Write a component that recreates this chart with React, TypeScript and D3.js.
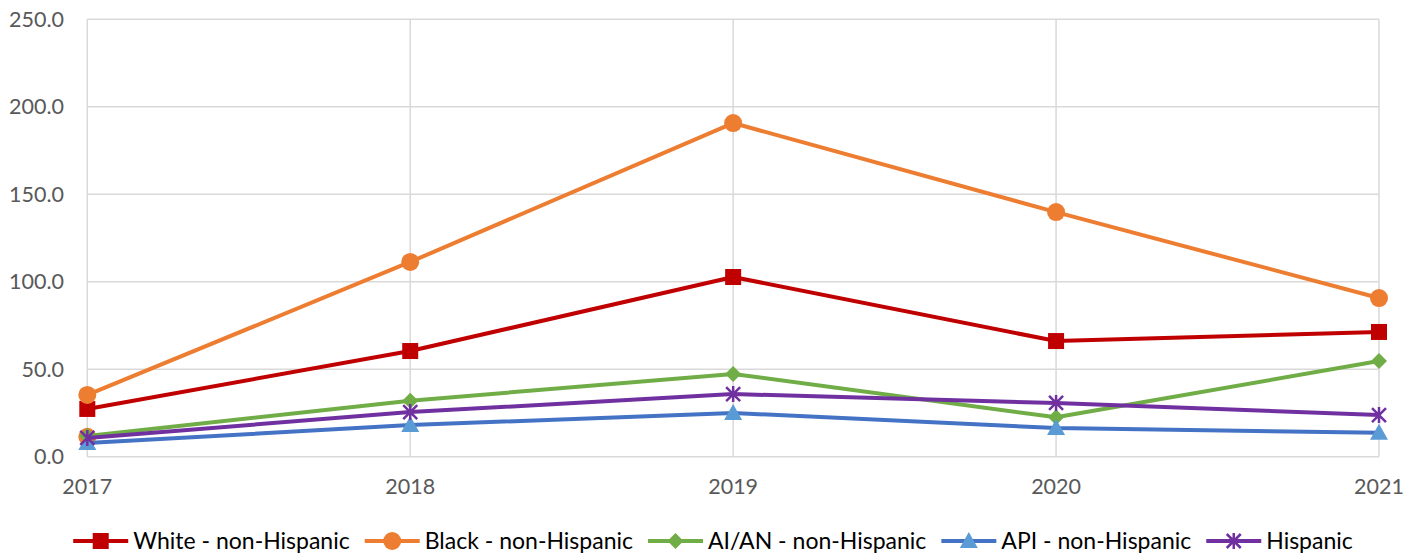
import React, { useEffect, useRef } from "react";
import * as d3 from "d3";

const years = ["2017", "2018", "2019", "2020", "2021"];
const yTicks = [0, 50, 100, 150, 200, 250];

const whiteNH = [27.3, 60.4, 102.7, 66.1, 71.3];
const blackNH = [35.3, 111.3, 190.7, 139.8, 90.7];
const aianNH = [11.8, 32.0, 47.3, 22.5, 54.7];
const apiNH = [7.8, 18.1, 25.0, 16.4, 13.7];
const hispanic = [10.7, 25.5, 35.8, 30.7, 23.8];
// stray orange marker visible behind the low series at 2017
const strayPoint = [{ year: "2017", value: 11.4 }];

const seriesNames = [
  "White - non-Hispanic",
  "Black - non-Hispanic",
  "AI/AN - non-Hispanic",
  "API - non-Hispanic",
  "Hispanic",
];

const W = 1418;
const H = 554;
const FONT = "Lato, 'Open Sans', sans-serif";

type Marker = "square" | "circle" | "diamond" | "triangle" | "star";

const series = [
  { name: seriesNames[0], values: whiteNH, line: "#C00000", fill: "#C00000", marker: "square" as Marker },
  { name: seriesNames[1], values: blackNH, line: "#ED7D31", fill: "#ED7D31", marker: "circle" as Marker },
  { name: seriesNames[2], values: aianNH, line: "#70AD47", fill: "#70AD47", marker: "diamond" as Marker },
  { name: seriesNames[3], values: apiNH, line: "#4472C4", fill: "#5B9BD5", marker: "triangle" as Marker },
  { name: seriesNames[4], values: hispanic, line: "#7030A0", fill: "#7030A0", marker: "star" as Marker },
];

function drawMarker(g: any, kind: Marker, x: number, y: number, color: string) {
  if (kind === "square") {
    g.append("rect").attr("x", x - 8).attr("y", y - 8).attr("width", 16).attr("height", 16).attr("fill", color);
  } else if (kind === "circle") {
    g.append("circle").attr("cx", x).attr("cy", y).attr("r", 9).attr("fill", color);
  } else if (kind === "diamond") {
    g.append("path")
      .attr("d", `M${x},${y - 8}L${x + 8},${y}L${x},${y + 8}L${x - 8},${y}Z`)
      .attr("fill", color);
  } else if (kind === "triangle") {
    g.append("path")
      .attr("d", `M${x},${y - 9}L${x + 9},${y + 7}L${x - 9},${y + 7}Z`)
      .attr("fill", color);
  } else {
    const r = 7;
    g.append("path")
      .attr("d", `M${x - r},${y - r}L${x + r},${y + r}M${x - r},${y + r}L${x + r},${y - r}M${x},${y - r - 1}L${x},${y + r + 1}`)
      .attr("stroke", color)
      .attr("stroke-width", 2.5)
      .attr("fill", "none");
  }
}

export default function App() {
  const ref = useRef<SVGSVGElement | null>(null);

  useEffect(() => {
    const svg = d3.select(ref.current);
    svg.selectAll("*").remove();

    const x = d3.scalePoint<string>().domain(years).range([87.3, 1379]);
    const y = d3.scaleLinear().domain([0, 250]).range([456.7, 19.3]);

    // horizontal gridlines
    svg.append("g")
      .selectAll("line")
      .data(yTicks)
      .join("line")
      .attr("x1", 87.3)
      .attr("x2", 1379)
      .attr("y1", (d) => y(d))
      .attr("y2", (d) => y(d))
      .attr("stroke", "#D9D9D9")
      .attr("stroke-width", 1.5);

    // vertical gridlines
    svg.append("g")
      .selectAll("line")
      .data(years)
      .join("line")
      .attr("x1", (d) => x(d)!)
      .attr("x2", (d) => x(d)!)
      .attr("y1", y(250))
      .attr("y2", y(0))
      .attr("stroke", "#D9D9D9")
      .attr("stroke-width", 1.5);

    // y tick labels
    svg.append("g")
      .selectAll("text")
      .data(yTicks)
      .join("text")
      .attr("x", 64)
      .attr("y", (d) => y(d))
      .attr("dy", "0.35em")
      .attr("text-anchor", "end")
      .attr("font-family", FONT)
      .attr("font-size", 21.5)
      .attr("fill", "#595959")
      .text((d) => d3.format(".1f")(d));

    // x tick labels
    svg.append("g")
      .selectAll("text")
      .data(years)
      .join("text")
      .attr("x", (d) => x(d)!)
      .attr("y", 494)
      .attr("text-anchor", "middle")
      .attr("font-family", FONT)
      .attr("font-size", 21.5)
      .attr("fill", "#595959")
      .text((d) => d);

    const line = d3
      .line<number>()
      .x((_, i) => x(years[i])!)
      .y((d) => y(d));

    const plot = svg.append("g");

    // stray marker
    strayPoint.forEach((p) => drawMarker(plot, "circle", x(p.year)!, y(p.value), "#ED7D31"));

    series.forEach((s) => {
      plot.append("path")
        .attr("d", line(s.values)!)
        .attr("fill", "none")
        .attr("stroke", s.line)
        .attr("stroke-width", 4)
        .attr("stroke-linejoin", "round");
      s.values.forEach((v, i) => drawMarker(plot, s.marker, x(years[i])!, y(v), s.fill));
    });

    // legend
    const legend = svg.append("g");
    const legY = 541;
    const lineLen = 55;
    const gapText = 5;
    const gapItem = 15;
    const items: { g: any; w: number }[] = [];
    series.forEach((s) => {
      const g = legend.append("g");
      g.append("line")
        .attr("x1", 0).attr("x2", lineLen)
        .attr("y1", legY).attr("y2", legY)
        .attr("stroke", s.line).attr("stroke-width", 4);
      drawMarker(g, s.marker, lineLen / 2, legY, s.fill);
      const t = g.append("text")
        .attr("x", lineLen + gapText)
        .attr("y", legY)
        .attr("dy", "0.35em")
        .attr("font-family", FONT)
        .attr("font-size", 23)
        .attr("fill", "#000000")
        .text(s.name);
      const tw = (t.node() as SVGTextElement).getComputedTextLength();
      items.push({ g, w: lineLen + gapText + tw });
    });
    const total = d3.sum(items, (d) => d.w) + gapItem * (items.length - 1);
    let cx = 713 - total / 2;
    items.forEach((it) => {
      it.g.attr("transform", `translate(${cx},0)`);
      cx += it.w + gapItem;
    });
  }, []);

  return (
    <svg
      ref={ref}
      width={W}
      height={H}
      style={{ position: "absolute", left: 0, top: 0, background: "#fff" }}
    />
  );
}
